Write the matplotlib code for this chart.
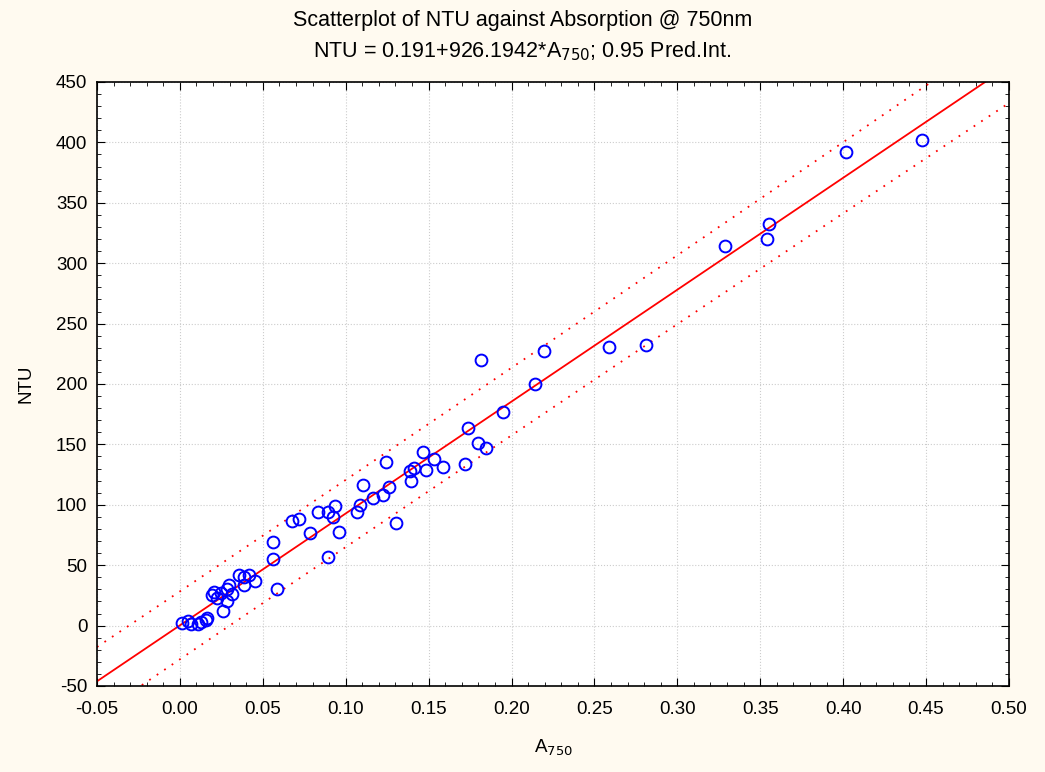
## Scatterplot of NTU against absorption at 750nm
import numpy as np
import matplotlib.pyplot as plt
from matplotlib.ticker import MultipleLocator

plt.rcParams['font.family'] = ['Liberation Sans', 'DejaVu Sans']
plt.rcParams['axes.unicode_minus'] = False

# absorption readings @ 750nm
a750 = [0.001, 0.005, 0.007, 0.011, 0.013, 0.016,
        0.0162, 0.0196, 0.0205, 0.0225, 0.0246, 0.0259, 0.0283, 0.0283,
        0.0313, 0.0299, 0.0358, 0.0384, 0.0384, 0.0414, 0.0455, 0.0588,
        0.0559, 0.0559, 0.0677, 0.0721, 0.0782, 0.0891, 0.0959, 0.0832,
        0.0893, 0.0923, 0.0933, 0.1071, 0.1085, 0.1105, 0.1164, 0.1224,
        0.1263, 0.1242, 0.1303, 0.1386, 0.1414, 0.1394, 0.1465, 0.1487,
        0.1533, 0.1586, 0.1816, 0.2198, 0.2139, 0.1949, 0.1737, 0.1796,
        0.1848, 0.1717, 0.4475, 0.4020, 0.3550, 0.3539, 0.3287, 0.2586,
        0.2814]
# turbidity
ntu = [2, 4, 1, 1, 3, 5,
       6.6, 25, 27.5, 23, 27, 12, 30, 20,
       26, 34, 42, 34, 40, 42, 37, 30,
       69.5, 55.2, 86.2, 87.9, 76.3, 57, 77.4, 94,
       94, 89.8, 99.2, 93.7, 100, 116.8, 106, 107.7,
       114.9, 135.3, 85.1, 127.8, 130.3, 119.8, 143.5, 128.6,
       138, 131.1, 219.8, 227, 200, 177.1, 163.6, 151.5,
       146.8, 133.9, 402.2, 392, 332.8, 320, 314, 230.8,
       232.2]

# fit from the title, residual sd
b0 = 0.191
b1 = 926.1942
s_res = 13.8

x = np.array(a750)
y = np.array(ntu)
n = len(x)

# 0.95 prediction interval around the given fit
t = 1.999
xx = np.linspace(-0.05, 0.50, 200)
yy = b0 + b1 * xx
half = t * s_res * np.sqrt(1 + 1 / n + (xx - x.mean()) ** 2 / np.sum((x - x.mean()) ** 2))

fig = plt.figure(figsize=(10.45, 7.72), dpi=100, facecolor='#fffaf0')
ax = fig.add_axes([0.0928, 0.1114, 0.8727, 0.7824])
ax.set_facecolor('white')

ax.plot(xx, yy, color='red', lw=1.3)
ax.plot(xx, yy + half, color='red', lw=1.3, ls=(0, (1, 4)))
ax.plot(xx, yy - half, color='red', lw=1.3, ls=(0, (1, 4)))
ax.plot(x, y, 'o', mfc='none', mec='#0000ff', mew=1.4, ms=8.5)

ax.set_xlim(-0.05, 0.50)
ax.set_ylim(-50, 450)
ax.xaxis.set_major_locator(MultipleLocator(0.05))
ax.xaxis.set_minor_locator(MultipleLocator(0.01))
ax.yaxis.set_major_locator(MultipleLocator(50))
ax.yaxis.set_minor_locator(MultipleLocator(10))
ax.set_xticklabels([f'{v:.2f}' for v in ax.get_xticks()])
ax.tick_params(which='both', direction='in', top=True, right=True, labelsize=13.5)
ax.tick_params(which='major', length=6)
ax.tick_params(which='minor', length=3)
ax.tick_params(axis='x', pad=11)
ax.tick_params(axis='y', pad=7)
ax.grid(True, which='major', ls=':', color='#cccccc', lw=0.8)
for sp in ax.spines.values():
    sp.set_linewidth(1.2)

ax.set_xlabel('A$_{750}$', fontsize=13.5, labelpad=14)
ax.set_ylabel('NTU', fontsize=13.5, labelpad=15)
fig.text(0.5, 0.9663, 'Scatterplot of NTU against Absorption @ 750nm',
         ha='center', va='baseline', fontsize=15.5)
fig.text(0.5, 0.9262, 'NTU = 0.191+926.1942*A$_{750}$; 0.95 Pred.Int.',
         ha='center', va='baseline', fontsize=15.5)

fig.savefig('out.png', dpi=100, facecolor=fig.get_facecolor())
